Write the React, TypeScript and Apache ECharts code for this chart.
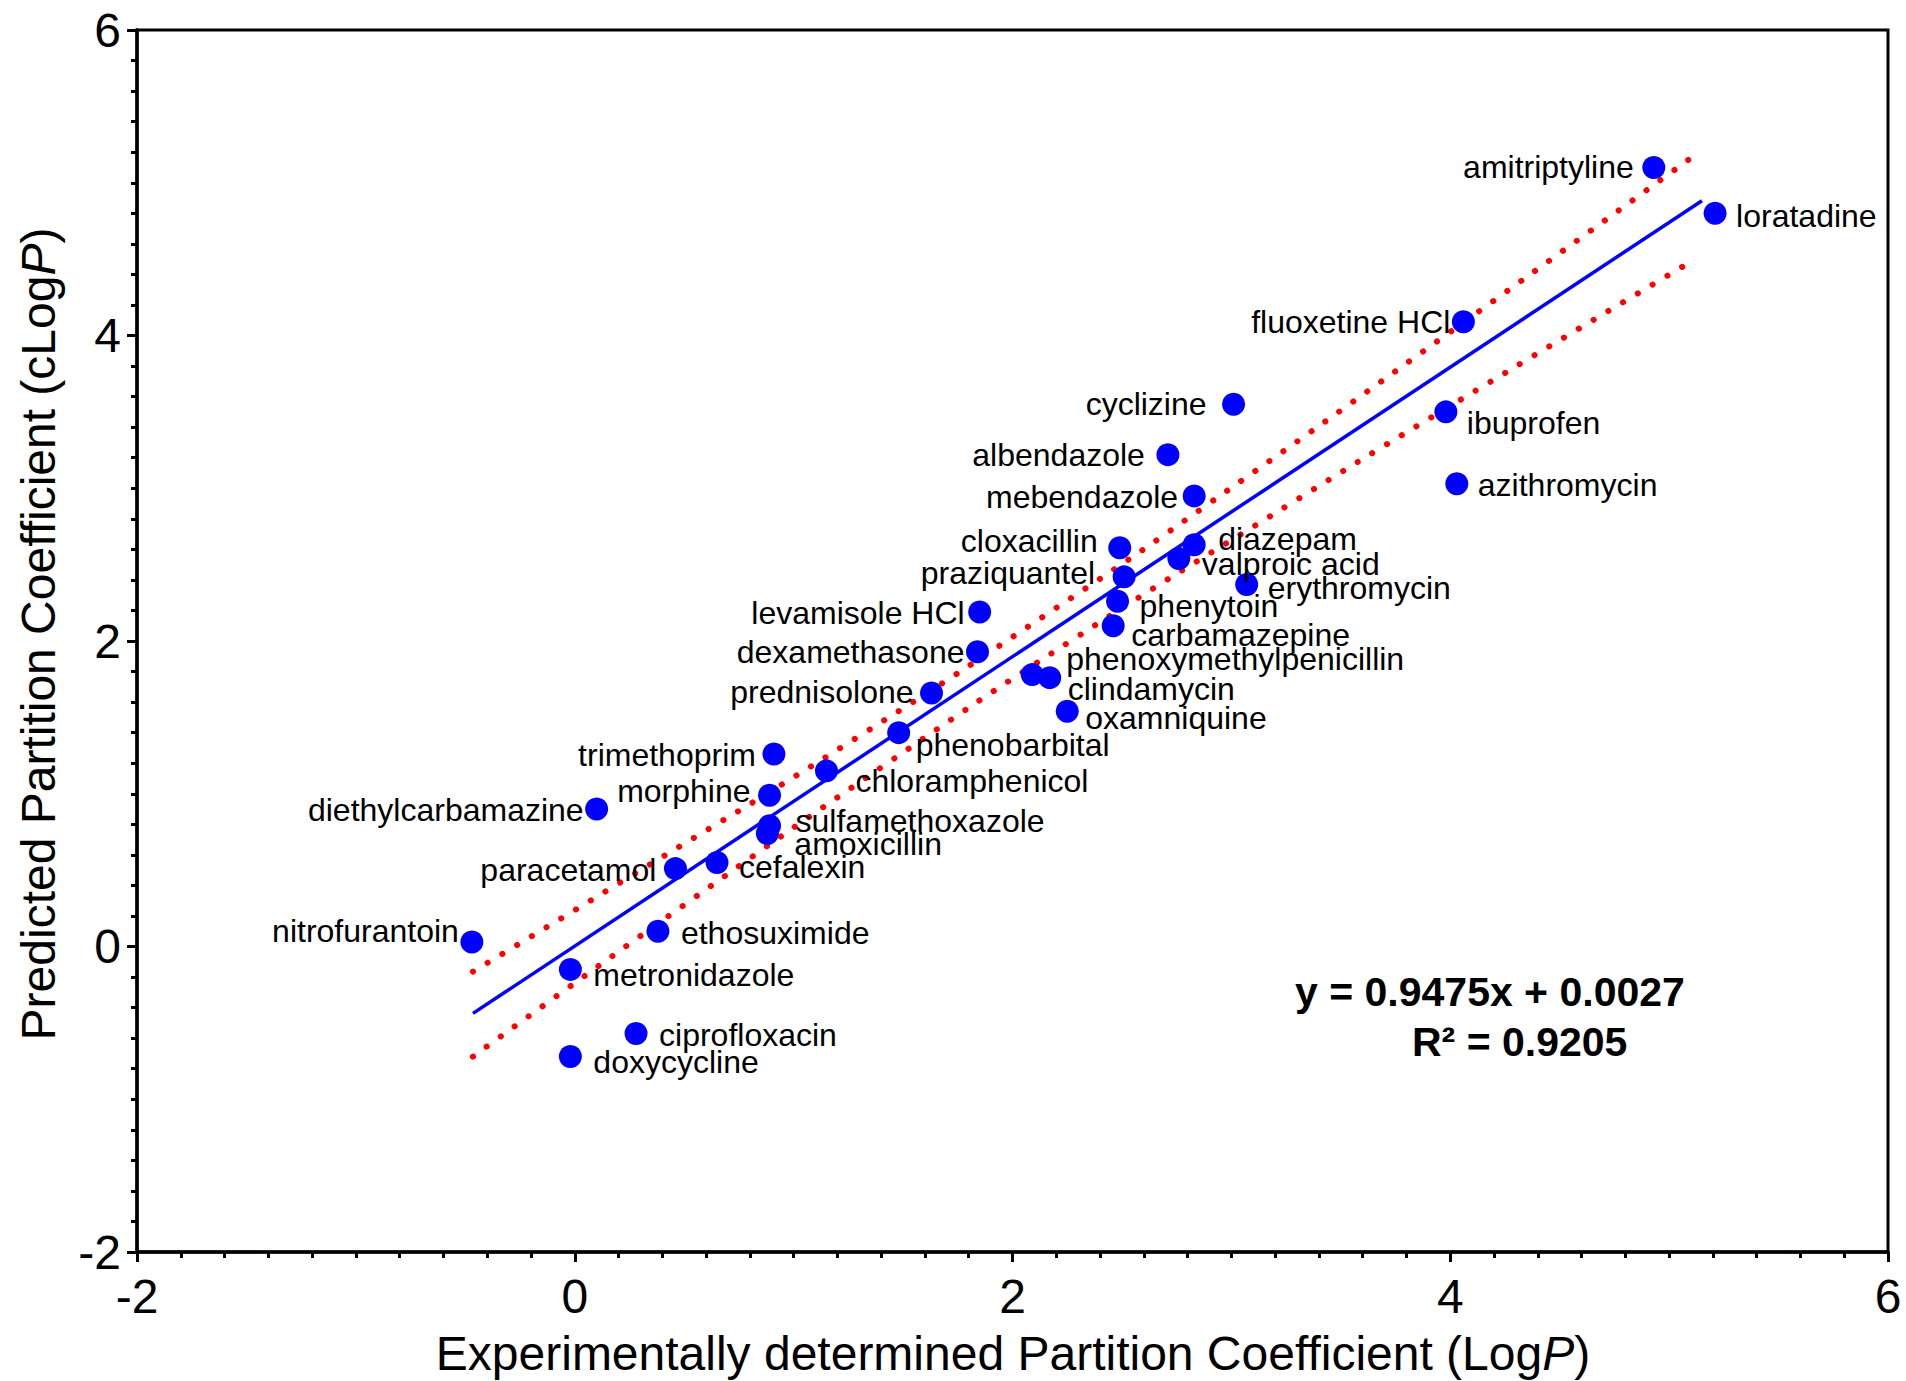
import React, { useEffect, useRef } from "react";
import * as echarts from "echarts";

// ---- data ----
const drugNames = [
  "amitriptyline", "loratadine", "fluoxetine HCl", "cyclizine", "ibuprofen",
  "albendazole", "azithromycin", "mebendazole", "cloxacillin", "diazepam",
  "valproic acid", "praziquantel", "erythromycin", "levamisole HCl", "phenytoin",
  "carbamazepine", "dexamethasone", "phenoxymethylpenicillin", "clindamycin", "prednisolone",
  "oxamniquine", "phenobarbital", "trimethoprim", "chloramphenicol", "morphine",
  "diethylcarbamazine", "sulfamethoxazole", "amoxicillin", "paracetamol", "cefalexin",
  "nitrofurantoin", "ethosuximide", "metronidazole", "ciprofloxacin", "doxycycline",
];
const expLogP = [
  4.93, 5.21, 4.06, 3.01, 3.98,
  2.71, 4.03, 2.83, 2.49, 2.83,
  2.76, 2.51, 3.07, 1.85, 2.48,
  2.46, 1.84, 2.09, 2.17, 1.63,
  2.25, 1.48, 0.91, 1.15, 0.89,
  0.10, 0.89, 0.88, 0.46, 0.65,
  -0.47, 0.38, -0.02, 0.28, -0.02,
];
const predCLogP = [
  5.10, 4.80, 4.09, 3.55, 3.50,
  3.22, 3.03, 2.95, 2.61, 2.63,
  2.54, 2.42, 2.37, 2.19, 2.26,
  2.10, 1.93, 1.78, 1.76, 1.66,
  1.54, 1.40, 1.26, 1.15, 0.99,
  0.90, 0.79, 0.74, 0.51, 0.55,
  0.03, 0.10, -0.15, -0.57, -0.72,
];

// label placement (side, gap from point centre in px, vertical nudge in px)
const labelSide = [
  "left", "right", "left", "left", "right",
  "left", "right", "left", "left", "right",
  "right", "left", "right", "left", "right",
  "right", "left", "right", "right", "left",
  "right", "right", "left", "right", "left",
  "left", "right", "right", "left", "right",
  "left", "right", "right", "right", "right",
];
const labelGap = [
  20, 21, 13, 27, 21,
  23, 21, 16, 22, 24,
  23, 29, 21, 15, 22,
  18, 13, 34, 18, 18,
  18, 17, 18, 29, 19,
  13, 26, 27, 19, 22,
  13, 23, 23, 23, 23,
];
const labelDy = [
  0, 3, 0, 0, 11,
  0, 1, 1, -7, -6,
  5, -4, 4, 1, 5,
  9, 0, -16, 11, -1,
  7, 12, 1, 10, -4,
  1, -5, 11, 1, 5,
  -11, 2, 6, 1, 6,
];

// regression y = 0.9475x + 0.0027 drawn over the range shown
const slope = 0.9475;
const intercept = 0.0027;
const fitRange = [-0.465, 5.15];

// dotted band curves
const upperBand = [
  [-0.465, -0.164], [0.208, 0.419], [1.287, 1.366], [2.278, 2.291],
  [2.868, 2.87], [3.962, 3.984], [5.114, 5.177],
];
const lowerBand = [
  [-0.465, -0.721], [0.494, 0.266], [1.402, 1.174], [2.255, 1.99],
  [3.262, 2.892], [3.865, 3.422], [5.09, 4.475],
];

const xTicks = { min: -2, max: 6, interval: 2 };
const yTicks = { min: -2, max: 6, interval: 2 };

const FONT = "'Liberation Sans', Arial, Helvetica, sans-serif";

export default function App() {
  const ref = useRef<HTMLDivElement>(null);
  useEffect(() => {
    document.body.style.margin = "0";
    if (!ref.current) return;
    const chart = echarts.init(ref.current, null, { renderer: "svg" });
    const R = 11.5;
    const scatterData = drugNames.map((n, i) => ({
      name: n,
      value: [expLogP[i], predCLogP[i]],
      label: {
        show: true,
        position: labelSide[i],
        distance: Math.max(0, labelGap[i] - R),
        offset: [0, labelDy[i]],
      },
    }));
    const axisCommon = {
      type: "value",
      axisLine: { show: true, onZero: false, lineStyle: { color: "#000", width: 3.5 } },
      axisTick: { show: true, inside: false, length: 10, lineStyle: { color: "#000", width: 3 } },
      minorTick: { show: true, splitNumber: 10, length: 6, lineStyle: { color: "#000", width: 3 } },
      splitLine: { show: false },
      minorSplitLine: { show: false },
      axisLabel: {
        show: true,
        color: "#000",
        fontSize: 48,
        fontFamily: FONT,
        showMinLabel: true,
        showMaxLabel: true,
      },
    };
    chart.setOption({
      animation: false,
      backgroundColor: "#fff",
      grid: {
        left: 137,
        right: 18,
        top: 30,
        bottom: 129,
        show: true,
        borderColor: "#000",
        borderWidth: 3,
        containLabel: false,
      },
      xAxis: {
        ...axisCommon,
        min: xTicks.min,
        max: xTicks.max,
        interval: xTicks.interval,
        axisLabel: { ...axisCommon.axisLabel, margin: 20 },
      },
      yAxis: {
        ...axisCommon,
        min: yTicks.min,
        max: yTicks.max,
        interval: yTicks.interval,
        axisLabel: { ...axisCommon.axisLabel, margin: 16 },
      },
      series: [
        {
          type: "line",
          data: upperBand,
          smooth: true,
          symbol: "none",
          silent: true,
          lineStyle: { color: "#ff0000", width: 6, type: [0.1, 17.1], cap: "round", opacity: 1 },
          z: 2,
        },
        {
          type: "line",
          data: lowerBand,
          smooth: true,
          symbol: "none",
          silent: true,
          lineStyle: { color: "#ff0000", width: 6, type: [0.1, 17.1], cap: "round", opacity: 1 },
          z: 2,
        },
        {
          type: "line",
          data: fitRange.map((x) => [x, slope * x + intercept]),
          symbol: "none",
          silent: true,
          lineStyle: { color: "#0000ff", width: 3.5, opacity: 1 },
          z: 3,
        },
        {
          type: "scatter",
          data: scatterData,
          symbol: "circle",
          symbolSize: 23,
          itemStyle: { color: "#0000ff", opacity: 1 },
          label: {
            show: true,
            formatter: "{b}",
            color: "#000",
            fontSize: 32,
            fontFamily: FONT,
          },
          z: 4,
        },
      ],
      graphic: [
        {
          type: "text",
          x: 1013,
          y: 1353,
          style: {
            text: "Experimentally determined Partition Coefficient (Log{i|P})",
            fill: "#000",
            font: `48px ${FONT}`,
            align: "center",
            verticalAlign: "middle",
            rich: { i: { fontStyle: "italic", fontSize: 48, fontFamily: FONT } },
          },
        },
        {
          type: "text",
          x: 38,
          y: 634,
          rotation: Math.PI / 2,
          style: {
            text: "Predicted Partition Coefficient (cLog{i|P})",
            fill: "#000",
            font: `48px ${FONT}`,
            align: "center",
            verticalAlign: "middle",
            rich: { i: { fontStyle: "italic", fontSize: 48, fontFamily: FONT } },
          },
        },
        {
          type: "text",
          x: 1295,
          y: 992,
          style: {
            text: `y = ${slope}x + ${intercept.toFixed(4)}`,
            fill: "#000",
            font: `bold 41px ${FONT}`,
            align: "left",
            verticalAlign: "middle",
          },
        },
        {
          type: "text",
          x: 1412,
          y: 1042,
          style: {
            text: "R² = 0.9205",
            fill: "#000",
            font: `bold 41px ${FONT}`,
            align: "left",
            verticalAlign: "middle",
          },
        },
      ],
    });
    return () => chart.dispose();
  }, []);
  return <div ref={ref} style={{ width: 1906, height: 1381 }} />;
}
